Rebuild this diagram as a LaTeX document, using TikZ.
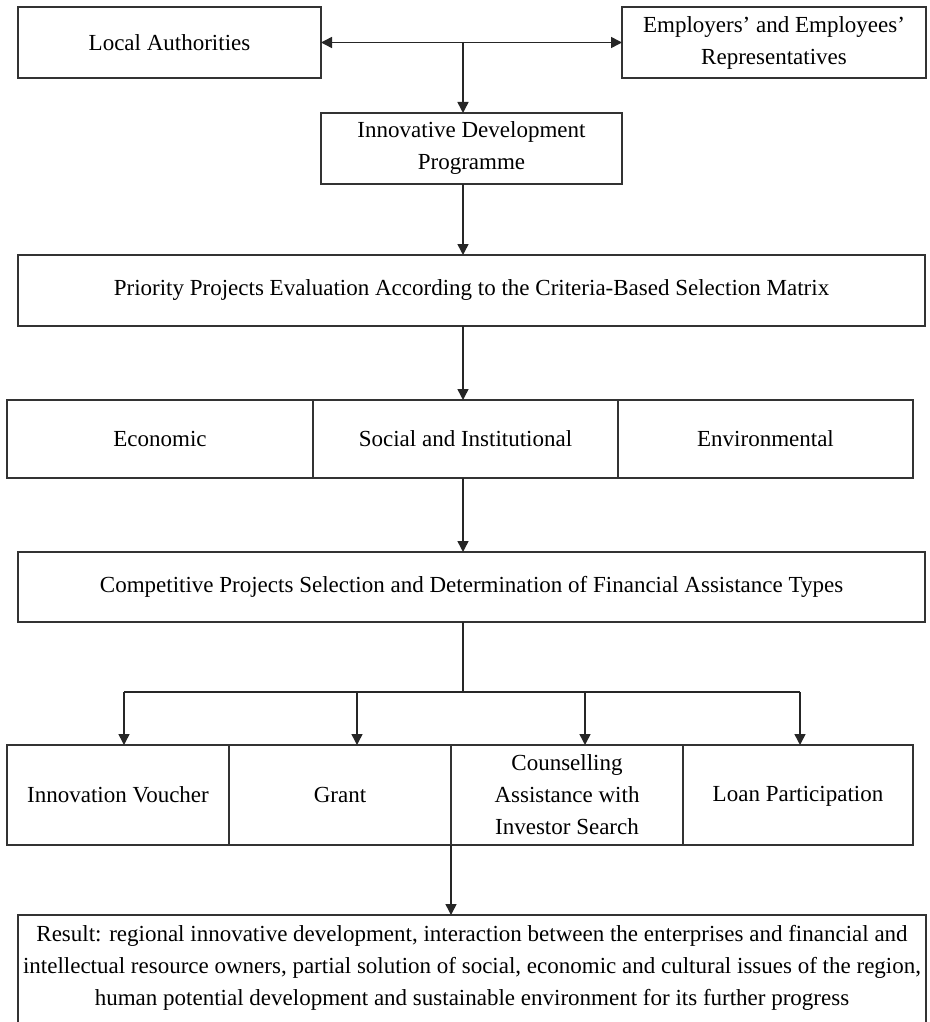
\documentclass[tikz,border=0pt]{standalone}
\usepackage{fontspec}
\setmainfont{Liberation Serif}
\usetikzlibrary{arrows.meta}
\begin{document}
\begin{tikzpicture}[x=1pt,y=-1pt,
  every node/.style={inner sep=0pt, outer sep=0pt, font=\fontsize{23}{32}\selectfont, align=center},
  box/.style={draw=black!80, line width=1.5pt, anchor=north west},
  line/.style={draw=black!85, line width=1.5pt},
  arr/.style={line, -{Triangle[length=11pt,width=11pt]}},
  darr/.style={line, {Triangle[length=11pt,width=11pt]}-{Triangle[length=11pt,width=11pt]}}]
\clip (0,0) rectangle (929,1022);
\fill[white] (0,0) rectangle (929,1022);
% top row
\node[box, minimum width=303pt, minimum height=71pt] (la) at (18,7) {Local Authorities};
\node[box, minimum width=304pt, minimum height=71pt] (emp) at (622,7) {Employers’ and Employees’\\Representatives};
\node[box, minimum width=301pt, minimum height=71pt] (idp) at (321,113) {Innovative Development\\Programme};
\node[box, minimum width=907pt, minimum height=71pt] (prio) at (18,255) {Priority Projects Evaluation According to the Criteria-Based Selection Matrix};
% criteria row
\node[box, minimum width=306pt, minimum height=78pt] (eco) at (7,400) {Economic};
\node[box, minimum width=305pt, minimum height=78pt] (soc) at (313,400) {Social and Institutional};
\node[box, minimum width=295pt, minimum height=78pt] (env) at (618,400) {Environmental};
\node[box, minimum width=907pt, minimum height=70pt] (comp) at (18,552) {Competitive Projects Selection and Determination of Financial Assistance Types};
% assistance row
\node[box, minimum width=222pt, minimum height=100pt] (iv) at (7,745) {Innovation Voucher};
\node[box, minimum width=222pt, minimum height=100pt] (gr) at (229,745) {Grant};
\node[box, minimum width=232pt, minimum height=100pt] (cou) at (451,745) {Counselling\\Assistance with\\Investor Search};
\node[box, minimum width=230pt, minimum height=100pt] (loan) at (683,745) {Loan Participation\strut};
% result
\node[box, minimum width=908pt, minimum height=140pt] (res) at (18,915) {};
\node[anchor=north] (restext) at (472,925) {Result: regional innovative development, interaction between the enterprises and financial and\\intellectual resource owners, partial solution of social, economic and cultural issues of the region,\\human potential development and sustainable environment for its further progress};
% connectors
\coordinate (j1) at (463,42);
\draw[darr] (la.east) -- (emp.west);
\draw[arr] (j1) -- (j1 |- idp.north);
\draw[arr] (idp.south -| j1) -- (prio.north -| j1);
\draw[arr] (prio.south -| j1) -- (eco.north -| j1);
\draw[arr] (soc.south -| j1) -- (comp.north -| j1);
\coordinate (j2) at (463,692);
\coordinate (b1) at (124,692);
\coordinate (b2) at (357,692);
\coordinate (b3) at (585,692);
\coordinate (b4) at (800,692);
\draw[line] (comp.south -| j2) -- (j2);
\draw[line] (b1) -- (b4);
\draw[arr] (b1) -- (b1 |- iv.north);
\draw[arr] (b2) -- (b2 |- gr.north);
\draw[arr] (b3) -- (b3 |- cou.north);
\draw[arr] (b4) -- (b4 |- loan.north);
\draw[arr] (cou.south west) -- (res.north -| cou.west);
\end{tikzpicture}
\end{document}
